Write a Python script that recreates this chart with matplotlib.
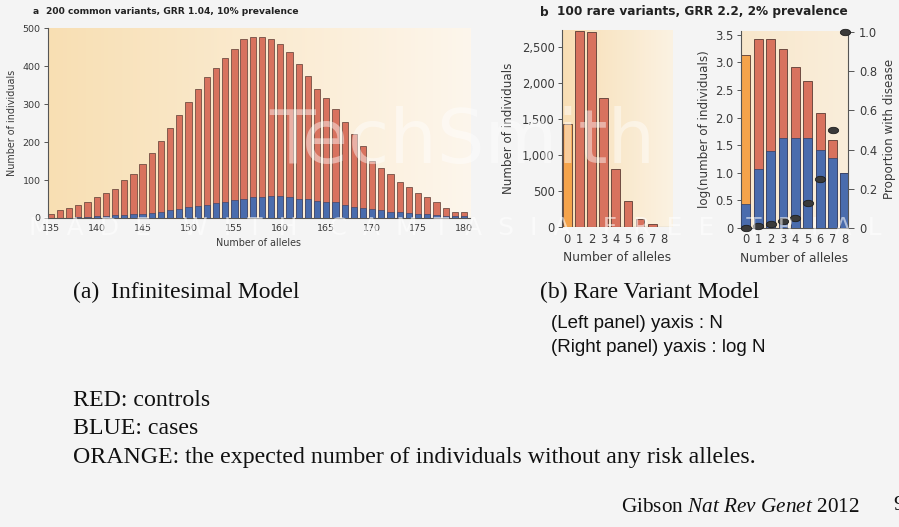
import numpy as np
import matplotlib
matplotlib.use("Agg")
import matplotlib.pyplot as plt
from matplotlib.path import Path
from matplotlib.colors import LinearSegmentedColormap

matplotlib.rcParams["mathtext.fontset"] = "custom"
matplotlib.rcParams["mathtext.it"] = "Liberation Serif:italic"
matplotlib.rcParams["mathtext.rm"] = "Liberation Serif"

# ---------------- data ----------------
a_alleles = list(range(135, 181))
a_total = [10, 20, 26, 33, 43, 55, 66, 76, 99, 116, 142, 171, 202, 237, 272, 307,
           340, 371, 396, 421, 445, 471, 477, 477, 473, 458, 437, 407, 373, 339,
           315, 287, 252, 221, 190, 151, 133, 116, 96, 82, 66, 55, 41, 26, 17, 17]
a_cases = [0, 1, 1, 2, 3, 5, 6, 7, 8, 10, 10, 13, 15, 20, 23, 29, 32, 33, 39, 43,
           47, 49, 56, 56, 57, 57, 56, 49, 49, 44, 43, 43, 33, 30, 27, 23, 20, 17,
           16, 14, 11, 10, 8, 6, 4, 4]

b_alleles = [0, 1, 2, 3, 4, 5, 6, 7, 8]
b_count = [1430, 2720, 2700, 1785, 810, 365, 115, 37, 6]
b_log_total = [3.14, 3.43, 3.43, 3.25, 2.91, 2.66, 2.08, 1.60, 1.00]
b_log_cases = [0.43, 1.06, 1.40, 1.62, 1.62, 1.62, 1.41, 1.26, 1.00]
b_prop = [0.0, 0.01, 0.02, 0.035, 0.05, 0.125, 0.25, 0.50, 1.0]

a_xticks = [135, 140, 145, 150, 155, 160, 165, 170, 175, 180]
a_yticks = [0, 100, 200, 300, 400, 500]
b_left_yticks = [0, 500, 1000, 1500, 2000, 2500]
b_left_yticklabels = ["0", "500", "1,000", "1,500", "2,000", "2,500"]
b_right_yticks = [0, 0.5, 1.0, 1.5, 2.0, 2.5, 3.0, 3.5]
b_right_yticklabels = ["0", "0.5", "1.0", "1.5", "2.0", "2.5", "3.0", "3.5"]
b_prop_ticks = [0, 0.2, 0.4, 0.6, 0.8, 1.0]
b_prop_ticklabels = ["0", "0.2", "0.4", "0.6", "0.8", "1.0"]

# ---------------- style ----------------
W, H = 899, 527
RED = "#d8725e"
BLUE = "#4a6cad"
ORANGE = "#f4a34b"
EDGE = "#5b3b33"
TXT = "#3a3a3a"
BG = "#f4f4f4"

fig = plt.figure(figsize=(W / 100, H / 100), dpi=100, facecolor=BG)


def ax_px(l, t, r, b):
    return fig.add_axes([l / W, 1 - b / H, (r - l) / W, (b - t) / H])


def gradient(ax, c0, c1):
    cmap = LinearSegmentedColormap.from_list("g", [c0, c1])
    grad = np.linspace(0, 1, 256).reshape(1, -1)
    ax.imshow(grad, aspect="auto", cmap=cmap, extent=[0, 1, 0, 1],
              transform=ax.transAxes, zorder=0)


def style(ax, fs):
    for s in ["top", "right"]:
        ax.spines[s].set_visible(False)
    ax.spines["left"].set_color("#555555")
    ax.spines["left"].set_linewidth(0.8)
    ax.spines["bottom"].set_color("#555555")
    ax.spines["bottom"].set_linewidth(0.8)
    ax.tick_params(axis="y", length=3, width=0.7, color="#555555",
                   labelsize=fs, labelcolor=TXT, pad=2)
    ax.tick_params(axis="x", length=0, labelsize=fs, labelcolor=TXT, pad=4)


# ---------------- panel a ----------------
axa = ax_px(47.7, 28.3, 470, 218)
gradient(axa, "#f8dfb3", "#fdf6ec")
axa.bar(a_alleles, a_total, width=0.68, color=RED, edgecolor=EDGE,
        linewidth=0.5, zorder=2)
axa.bar(a_alleles, a_cases, width=0.68, color=BLUE, edgecolor="#2f3f66",
        linewidth=0.4, zorder=3)
axa.set_xlim(134.67, 180.65)
axa.set_ylim(0, 500)
axa.set_xticks(a_xticks)
axa.set_yticks(a_yticks)
style(axa, 6.8)
axa.set_xlabel("Number of alleles", fontsize=6.9, color=TXT, labelpad=4)
axa.set_ylabel("Number of individuals", fontsize=6.9, color=TXT, labelpad=4)

fig.text(33 / W, 1 - 11 / H, "a", fontsize=6.6, fontweight="bold",
         color="#222222", va="center", ha="left")
fig.text(46 / W, 1 - 11 / H, "200 common variants, GRR 1.04, 10% prevalence",
         fontsize=6.6, fontweight="bold", color="#222222", va="center", ha="left")

# ---------------- panel b left ----------------
axb1 = ax_px(561.7, 30, 672, 227)
gradient(axb1, "#f8deb4", "#fbf2e2")
cols = [ORANGE] + [RED] * (len(b_alleles) - 1)
axb1.bar(b_alleles, b_count, width=0.72, color=cols, edgecolor=EDGE,
         linewidth=0.6, zorder=2)
axb1.set_xlim(-0.46, 8.63)
axb1.set_ylim(0, 2732)
axb1.set_xticks(b_alleles)
axb1.set_yticks(b_left_yticks)
axb1.set_yticklabels(b_left_yticklabels)
style(axb1, 8.3)
axb1.spines["bottom"].set_visible(False)
axb1.axhline(0, color="#555555", lw=0.8, zorder=4, xmin=0.02, xmax=0.98)
axb1.set_xlabel("Number of alleles", fontsize=8.8, color=TXT, labelpad=4)
axb1.set_ylabel("Number of individuals", fontsize=8.6, color=TXT, labelpad=5)

fig.text(540 / W, 1 - 12 / H, "b", fontsize=8.7, fontweight="bold",
         color="#222222", va="center", ha="left")
fig.text(557 / W, 1 - 12 / H, "100 rare variants, GRR 2.2, 2% prevalence",
         fontsize=8.7, fontweight="bold", color="#222222", va="center", ha="left")

# ---------------- panel b right ----------------
axb2 = ax_px(740.7, 31, 848, 227.7)
gradient(axb2, "#f8e7cb", "#faeedb")
axb2.bar(b_alleles, b_log_total, width=0.72, color=cols, edgecolor=EDGE,
         linewidth=0.6, zorder=2)
axb2.bar(b_alleles, b_log_cases, width=0.72, color=BLUE, edgecolor="#2f3f66",
         linewidth=0.5, zorder=3)
axb2.set_xlim(-0.42, 8.25)
axb2.set_ylim(0, 3.57)
axb2.set_xticks(b_alleles)
axb2.set_yticks(b_right_yticks)
axb2.set_yticklabels(b_right_yticklabels)
style(axb2, 8.3)
axb2.set_xlabel("Number of alleles", fontsize=8.8, color=TXT, labelpad=4)
axb2.set_ylabel("log(number of individuals)", fontsize=8.6, color=TXT, labelpad=3)

axt = axb2.twinx()
axt.set_ylim(0, 1.0065)
circ = Path.unit_circle()
ell = Path(circ.vertices * np.array([1.0, 0.62]), circ.codes)
axt.scatter(b_alleles, b_prop, marker=ell, s=55, color="#3a3a3a",
            edgecolor="#1e1e1e", linewidth=0.6, zorder=5, clip_on=False)
axt.set_yticks(b_prop_ticks)
axt.set_yticklabels(b_prop_ticklabels)
for s in ["top", "left", "bottom"]:
    axt.spines[s].set_visible(False)
axt.spines["right"].set_color("#555555")
axt.spines["right"].set_linewidth(0.8)
axt.tick_params(axis="y", length=4, width=0.7, color="#555555",
                labelsize=8.3, labelcolor=TXT, pad=4)
axt.set_ylabel("Proportion with disease", fontsize=8.6, color=TXT, labelpad=4)

# ---------------- slide text ----------------
serif = "Liberation Serif"
fig.text(73 / W, 1 - 292 / H, "(a)  Infinitesimal Model", family=serif,
         fontsize=17, color="#111111", va="center", ha="left")
fig.text(540 / W, 1 - 292 / H, "(b) Rare Variant Model", family=serif,
         fontsize=17, color="#111111", va="center", ha="left")
fig.text(551 / W, 1 - 324 / H, "(Left panel) yaxis : N", family="Liberation Sans",
         fontsize=13.5, color="#111111", va="center", ha="left")
fig.text(551 / W, 1 - 347 / H, "(Right panel) yaxis : log N", family="Liberation Sans",
         fontsize=13.5, color="#111111", va="center", ha="left")
fig.text(73 / W, 1 - 401 / H, "RED: controls", family=serif,
         fontsize=17.2, color="#111111", va="center", ha="left")
fig.text(73 / W, 1 - 429 / H, "BLUE: cases", family=serif,
         fontsize=17.2, color="#111111", va="center", ha="left")
fig.text(73 / W, 1 - 458 / H,
         "ORANGE: the expected number of individuals without any risk alleles.",
         family=serif, fontsize=17.2, color="#111111", va="center", ha="left")
fig.text(621 / W, 1 - 508 / H, "Gibson $\\mathit{Nat\\ Rev\\ Genet}$ 2012",
         family=serif, fontsize=15.3, color="#111111", va="center", ha="left")
fig.text(893 / W, 1 - 506 / H, "9", family=serif, fontsize=16,
         color="#111111", va="center", ha="left")

# ---------------- watermark ----------------
fig.text(462 / W, 1 - 142 / H, "TechSmith", fontsize=54, color="white",
         alpha=0.45, va="center", ha="center", zorder=10)
fig.text(455 / W, 1 - 228 / H,
         "M  A  D  E    W  I  T  H    C  A  M  T  A  S  I  A    F  R  E  E    T  R  I  A  L",
         fontsize=18, color="white", alpha=0.55, va="center", ha="center", zorder=10)

fig.savefig("out.png", dpi=100, facecolor=BG)
